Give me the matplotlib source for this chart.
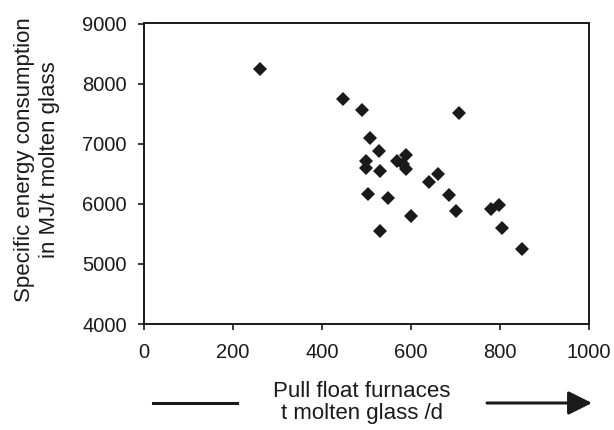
import matplotlib
matplotlib.use("Agg")
import matplotlib.pyplot as plt

# pull of float furnaces (t molten glass / d) vs specific energy (MJ/t)
pull = [260, 448, 489, 708, 508, 529, 589, 498, 498, 568, 581, 589, 531,
        660, 640, 503, 549, 685, 700, 600, 780, 798, 531, 804, 849]
energy = [8236, 7738, 7555, 7505, 7090, 6874, 6813, 6713, 6603, 6708, 6658,
          6586, 6547, 6492, 6370, 6160, 6093, 6154, 5872, 5800, 5910, 5982,
          5550, 5595, 5246]

x_ticks = [0, 200, 400, 600, 800, 1000]
y_ticks = [4000, 5000, 6000, 7000, 8000, 9000]

plt.rcParams['font.family'] = ['Liberation Sans', 'DejaVu Sans']
ink = '#1a1a1a'

fig = plt.figure(figsize=(6.14, 4.30), dpi=100)
ax = fig.add_axes([144 / 614, 106 / 430, 445 / 614, 300.5 / 430])

ax.plot(pull, energy, 'D', color=ink, markersize=7.2, markeredgewidth=0)

ax.set_xlim(0, 1000)
ax.set_ylim(4000, 9000)
ax.set_xticks(x_ticks)
ax.set_yticks(y_ticks)
ax.tick_params(axis='both', direction='out', length=4.3, width=1.2,
               color=ink, labelcolor=ink, labelsize=14.5)
ax.tick_params(axis='x', pad=9.5)
ax.tick_params(axis='y', pad=8)
for s in ax.spines.values():
    s.set_linewidth(1.4)
    s.set_color(ink)

# axis titles
fig.text(37 / 614, 1 - 160 / 430,
         'Specific energy consumption\nin MJ/t molten glass',
         rotation=90, ha='center', va='center', multialignment='center',
         fontsize=16, color=ink, linespacing=1.25)
fig.text(362 / 614, 1 - 402.5 / 430, 'Pull float furnaces\nt molten glass /d',
         ha='center', va='center', multialignment='center',
         fontsize=16, color=ink, linespacing=1.1)

# line on the left and arrow on the right of the x title
y_arrow = 1 - 403 / 430
fig.add_artist(plt.Line2D([153 / 614, 237 / 614], [y_arrow, y_arrow],
                          transform=fig.transFigure, color=ink, lw=2.2))
ax.annotate('', xy=(592 / 614, y_arrow), xycoords='figure fraction',
            xytext=(487 / 614, y_arrow), textcoords='figure fraction',
            arrowprops=dict(arrowstyle='-|>,head_length=0.4,head_width=0.2',
                            mutation_scale=36, lw=2.2, color=ink,
                            shrinkA=0, shrinkB=0))

fig.savefig('out.png', dpi=100)
